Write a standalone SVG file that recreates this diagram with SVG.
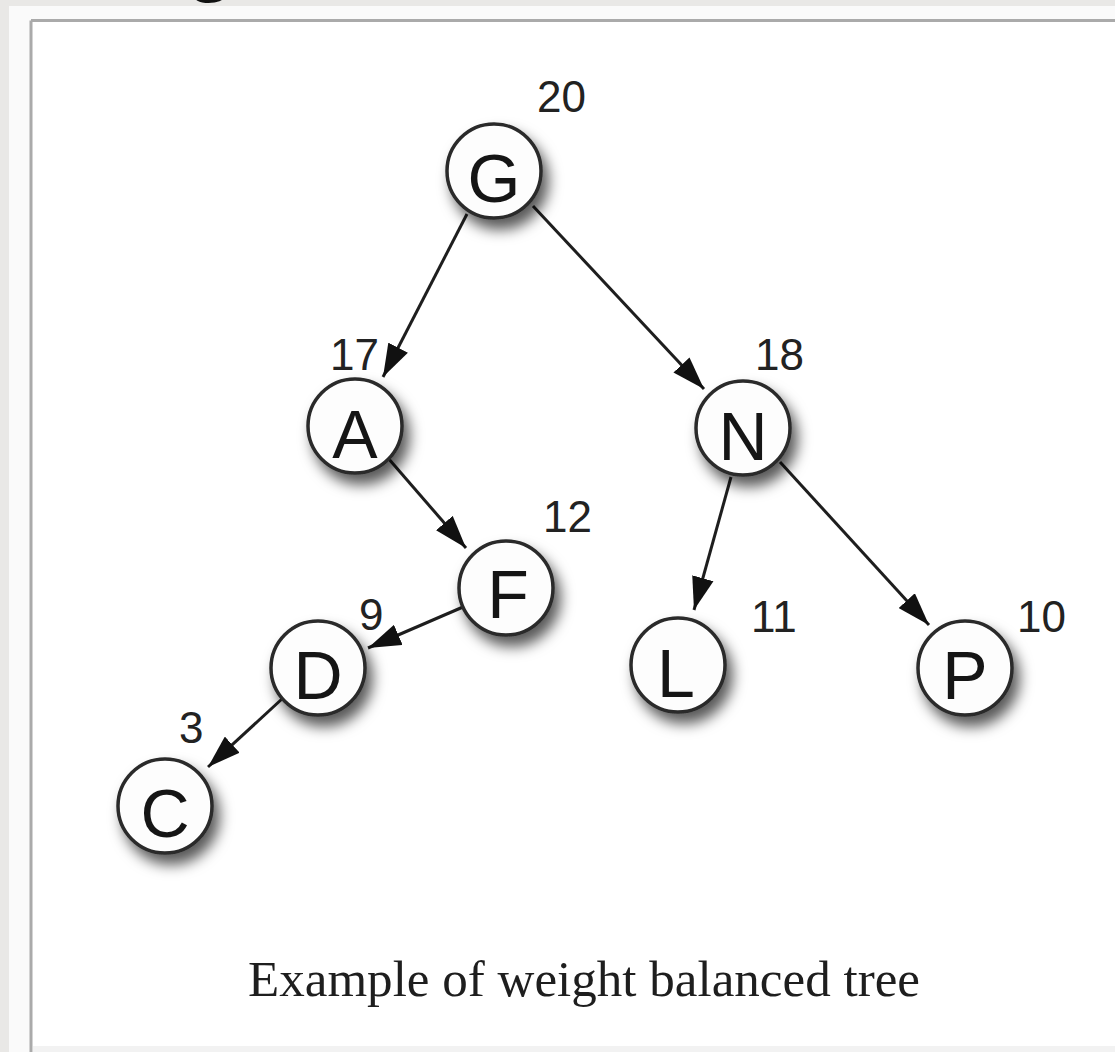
<svg xmlns="http://www.w3.org/2000/svg" width="1115" height="1052" viewBox="0 0 1115 1052">
<defs>
<style>
.node circle{fill:#fdfdfd;stroke:#2a2a2a;stroke-width:3.5}
.node text{font-family:"Liberation Sans",Arial,sans-serif;font-size:68px;fill:#151515;text-anchor:middle}
.w{font-family:"Liberation Sans",Arial,sans-serif;font-size:44px;fill:#222}
.edge{stroke:#1e1e1e;stroke-width:3;fill:none;marker-end:url(#ah)}
.cap{font-family:"Liberation Serif","Times New Roman",serif;font-size:50px;fill:#1e1e1e}
</style>
<marker id="ah" viewBox="0 0 12 8" refX="12" refY="4" markerWidth="11" markerHeight="7.5" markerUnits="strokeWidth" orient="auto">
<path d="M0,0 L12,4 L0,8 Z" fill="#111"/>
</marker>
<filter id="sh" x="-50%" y="-50%" width="200%" height="200%">
<feDropShadow dx="6" dy="10" stdDeviation="7" flood-color="#000" flood-opacity="0.65"/>
</filter>
</defs>
<rect x="0" y="0" width="1115" height="1052" fill="#e9e8e6"/>
<text x="190" y="-14" font-family="Liberation Serif,serif" font-size="80" fill="#111">g</text>
<rect x="9" y="6" width="1106" height="1046" fill="#fafafa"/>
<rect x="31" y="20.5" width="1090" height="1040" fill="#ffffff"/>
<line x1="31" y1="20.5" x2="1115" y2="20.5" stroke="#aaaaaa" stroke-width="3"/>
<line x1="31" y1="20.5" x2="31" y2="1052" stroke="#aaaaaa" stroke-width="3"/>
<rect x="33" y="1046" width="1082" height="6" fill="#f2f2f2"/>

<g id="connectors">
<line class="edge" x1="467" y1="214" x2="383" y2="377"/>
<line class="edge" x1="533" y1="206" x2="704" y2="389"/>
<line class="edge" x1="388" y1="458" x2="466" y2="548"/>
<line class="edge" x1="463" y1="607" x2="368" y2="648"/>
<line class="edge" x1="283" y1="698" x2="208" y2="767"/>
<line class="edge" x1="731" y1="477" x2="694" y2="610"/>
<line class="edge" x1="780" y1="462" x2="929" y2="625"/>
</g>

<g id="node-G" class="node"><circle cx="494" cy="171" r="47" filter="url(#sh)"/><text x="494" y="202">G</text></g>
<g id="node-A" class="node"><circle cx="355" cy="426" r="47" filter="url(#sh)"/><text x="355" y="458">A</text></g>
<g id="node-N" class="node"><circle cx="743" cy="428" r="47" filter="url(#sh)"/><text x="743" y="460">N</text></g>
<g id="node-F" class="node"><circle cx="506" cy="588" r="47" filter="url(#sh)"/><text x="508" y="618">F</text></g>
<g id="node-D" class="node"><circle cx="318" cy="668" r="47" filter="url(#sh)"/><text x="318" y="699">D</text></g>
<g id="node-L" class="node"><circle cx="678" cy="665" r="47" filter="url(#sh)"/><text x="676" y="697">L</text></g>
<g id="node-P" class="node"><circle cx="965" cy="668" r="47" filter="url(#sh)"/><text x="965" y="699">P</text></g>
<g id="node-C" class="node"><circle cx="165" cy="806" r="47" filter="url(#sh)"/><text x="165" y="837">C</text></g>

<g id="weights">
<text class="w" x="537" y="112">20</text>
<text class="w" x="330" y="370">17</text>
<text class="w" x="755" y="370">18</text>
<text class="w" x="543" y="532">12</text>
<text class="w" x="359" y="630">9</text>
<text class="w" x="179" y="743">3</text>
<text class="w" x="751" y="632">11</text>
<text class="w" x="1017" y="632">10</text>
</g>

<text class="cap" x="248" y="996" textLength="672" lengthAdjust="spacingAndGlyphs">Example of weight balanced tree</text>
</svg>
